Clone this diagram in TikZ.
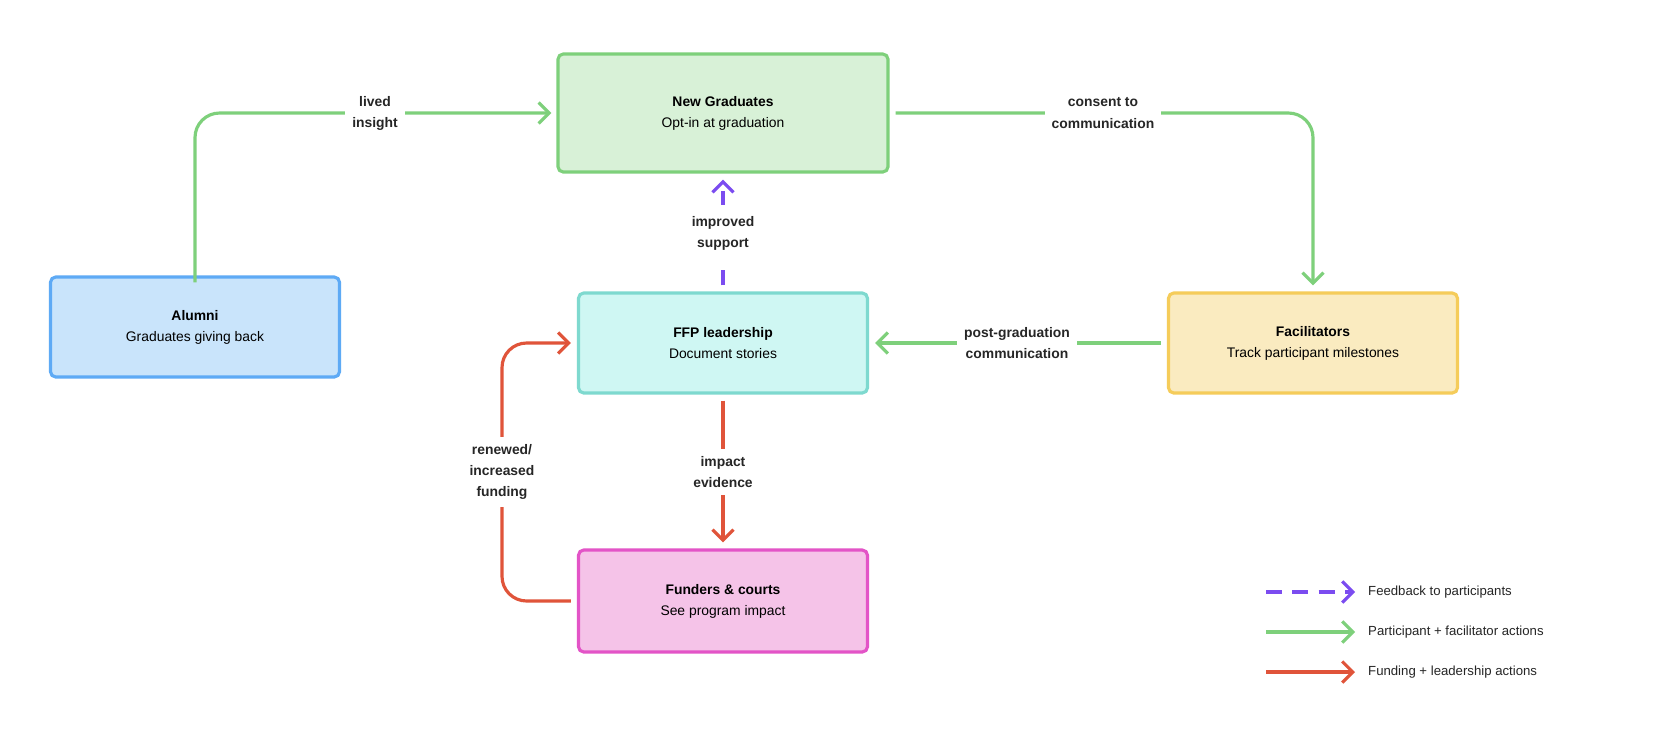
\documentclass[tikz,border=0pt]{standalone}
\usepackage{fontspec}
\setmainfont{Liberation Sans}
\usetikzlibrary{arrows.meta}
\definecolor{gr}{HTML}{7ED07B}
\definecolor{rd}{HTML}{E0543A}
\definecolor{pu}{HTML}{7B4CF0}
\begin{document}
\begin{tikzpicture}[x=0.02cm,y=-0.02cm,
 box/.style={draw,line width=1.8pt,rounded corners=3pt,align=center,font=\fontsize{7.9}{12}\selectfont},
 lab/.style={fill=white,align=center,font=\bfseries\fontsize{7.9}{12}\selectfont,text=black!85,inner sep=4pt},
 arr/.style={line width=1.8pt,rounded corners=14pt,-{Straight Barb[length=6pt,width=12pt,line width=1.8pt]}},
 leg/.style={font=\fontsize{7.5}{9}\selectfont,anchor=west,text=black!85}]
\useasboundingbox[fill=white] (0,0) rectangle (1658,738);
\node[box,draw=gr,fill=gr!30,minimum width=330*0.02cm,minimum height=118*0.02cm] (ng) at (723,113) {\textbf{New Graduates}\\Opt-in at graduation};
\node[box,draw={rgb,255:red,94;green,170;blue,245},fill={rgb,255:red,201;green,228;blue,251},minimum width=289*0.02cm,minimum height=100*0.02cm] (al) at (195,327) {\textbf{Alumni}\\Graduates giving back};
\node[box,draw={rgb,255:red,126;green,217;blue,207},fill={rgb,255:red,207;green,247;blue,243},minimum width=289*0.02cm,minimum height=100*0.02cm] (ffp) at (723,343) {\textbf{FFP leadership}\\Document stories};
\node[box,draw={rgb,255:red,245;green,204;blue,90},fill={rgb,255:red,250;green,235;blue,192},minimum width=289*0.02cm,minimum height=100*0.02cm] (fa) at (1313,343) {\textbf{Facilitators}\\Track participant milestones};
\node[box,draw={rgb,255:red,227;green,84;blue,199},fill={rgb,255:red,245;green,195;blue,232},minimum width=289*0.02cm,minimum height=102*0.02cm] (fu) at (723,601) {\textbf{Funders \& courts}\\See program impact};
\coordinate (c1) at (195,113);
\coordinate (c2) at (1313,113);
\coordinate (c3) at (502,601);
\coordinate (c4) at (502,343);
\draw[arr,gr] ([yshift=-7*0.02cm]al.north) -- (c1) -- ([xshift=-5*0.02cm]ng.west);
\draw[arr,gr] ([xshift=6*0.02cm]ng.east) -- (c2) -- ([yshift=6*0.02cm]fa.north);
\draw[arr,gr] ([xshift=-6*0.02cm]fa.west) -- ([xshift=6*0.02cm]ffp.west-|ffp.east);
\draw[arr,pu,dashed,dash pattern=on 9pt off 6pt] ([yshift=6*0.02cm]ffp.north) -- ([yshift=-6*0.02cm]ng.south);
\draw[arr,rd] ([yshift=-6*0.02cm]ffp.south) -- ([yshift=6*0.02cm]fu.north);
\draw[arr,rd] ([xshift=-6*0.02cm]fu.west) -- (c3) -- (c4) -- ([xshift=-6*0.02cm]ffp.west);
\node[lab] (l1) at (375,113) {lived\\insight};
\node[lab] (l2) at (1103,113) {consent to\\communication};
\node[lab] (l3) at (1017,343) {post-graduation\\communication};
\node[lab,inner ysep=6pt] (l4) at (723,233) {improved\\support};
\node[lab] (l5) at (723,472) {impact\\evidence};
\node[lab] (l6) at (502,472) {renewed/\\increased\\funding};
\coordinate (a1) at (1266,592); \coordinate (b1) at (1355,592);
\coordinate (a2) at (1266,632); \coordinate (b2) at (1355,632);
\coordinate (a3) at (1266,672); \coordinate (b3) at (1355,672);
\draw[arr,pu,dashed,dash pattern=on 9pt off 6pt] (a1) -- (b1);
\draw[arr,gr] (a2) -- (b2);
\draw[arr,rd] (a3) -- (b3);
\node[leg] (t1) at (1362,592) {Feedback to participants};
\node[leg] (t2) at (1362,632) {Participant + facilitator actions};
\node[leg] (t3) at (1362,672) {Funding + leadership actions};
\end{tikzpicture}
\end{document}
